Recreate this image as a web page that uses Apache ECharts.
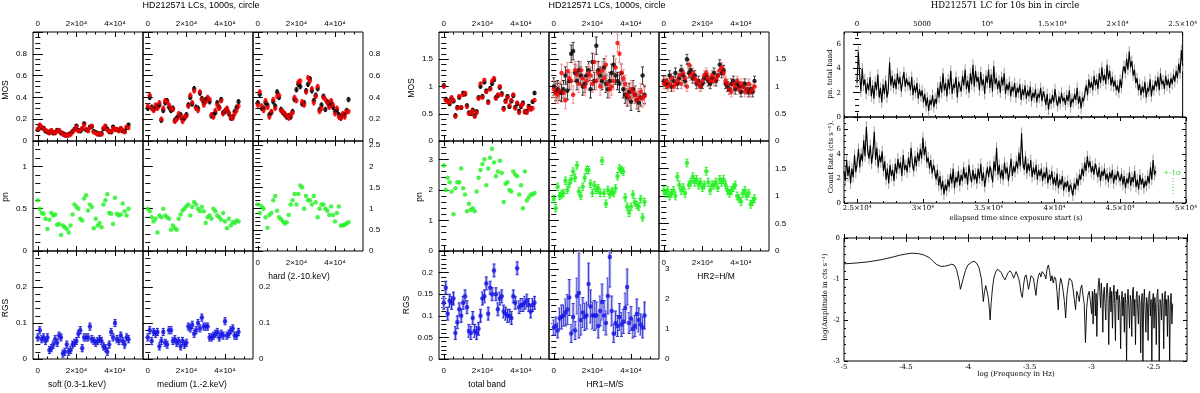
<!DOCTYPE html>
<html><head><meta charset="utf-8">
<script src="https://cdn.jsdelivr.net/npm/echarts@6/dist/echarts.min.js"></script>
<style>html,body{margin:0;padding:0;background:#fff}#c{width:1200px;height:393px}</style>
</head><body><div id="c"></div><script>
// ---------- DATA ----------
const T = [0,1000,2000,3000,4000,5000,6000,7000,8000,9000,10000,11000,12000,13000,14000,15000,16000,17000,18000,19000,20000,21000,22000,23000,24000,25000,26000,27000,28000,29000,30000,31000,32000,33000,34000,35000,36000,37000,38000,39000,40000,41000,42000,43000,44000,45000,46000,47000];
const xMajor = [0,20000,40000];

// left panel (energy bands)
const mosSoftM1 = [0.10,0.14,0.12,0.12,0.09,0.08,0.08,0.09,0.07,0.08,0.10,0.09,0.07,0.07,0.06,0.05,0.06,0.07,0.09,0.11,0.14,0.10,0.09,0.11,0.16,0.10,0.10,0.13,0.13,0.09,0.08,0.07,0.06,0.07,0.11,0.13,0.11,0.09,0.08,0.13,0.11,0.10,0.10,0.11,0.09,0.09,0.12,0.15];
const mosSoftM2 = [0.11,0.15,0.13,0.11,0.10,0.09,0.07,0.10,0.08,0.07,0.09,0.10,0.08,0.06,0.05,0.06,0.05,0.06,0.08,0.10,0.13,0.09,0.10,0.12,0.15,0.11,0.09,0.12,0.14,0.08,0.07,0.06,0.07,0.06,0.12,0.14,0.10,0.08,0.09,0.12,0.10,0.11,0.09,0.12,0.10,0.08,0.13,0.12];
const mosMedM1 = [0.30,0.40,0.31,0.29,0.31,0.32,0.33,0.19,0.28,0.35,0.37,0.31,0.28,0.30,0.19,0.21,0.23,0.24,0.20,0.21,0.24,0.33,0.40,0.34,0.48,0.31,0.30,0.44,0.39,0.35,0.38,0.39,0.36,0.23,0.24,0.26,0.35,0.31,0.38,0.26,0.27,0.29,0.25,0.21,0.22,0.27,0.31,0.36];
const mosMedM2 = [0.32,0.42,0.30,0.28,0.33,0.30,0.35,0.20,0.30,0.37,0.36,0.33,0.30,0.29,0.18,0.20,0.25,0.22,0.18,0.22,0.23,0.32,0.42,0.35,0.46,0.30,0.28,0.45,0.38,0.33,0.36,0.40,0.38,0.24,0.22,0.28,0.33,0.30,0.37,0.25,0.28,0.30,0.26,0.22,0.21,0.25,0.28,0.32];
const mosHardM1 = [0.35,0.43,0.30,0.30,0.35,0.33,0.24,0.26,0.36,0.32,0.45,0.40,0.29,0.26,0.24,0.22,0.23,0.22,0.27,0.38,0.47,0.52,0.50,0.34,0.35,0.46,0.52,0.57,0.46,0.37,0.42,0.48,0.29,0.33,0.41,0.29,0.36,0.33,0.35,0.31,0.27,0.28,0.24,0.21,0.24,0.24,0.28,0.38];
const mosHardM2 = [0.33,0.45,0.32,0.28,0.37,0.31,0.22,0.27,0.38,0.30,0.41,0.42,0.28,0.27,0.25,0.23,0.21,0.24,0.26,0.40,0.37,0.54,0.55,0.36,0.33,0.45,0.58,0.55,0.48,0.35,0.41,0.50,0.27,0.30,0.40,0.38,0.35,0.31,0.37,0.33,0.25,0.30,0.22,0.21,0.25,0.22,0.27,0.27];
const pnSoft = [0.60,0.50,0.45,0.44,0.38,0.26,0.37,0.45,0.42,0.43,0.31,0.32,0.19,0.30,0.28,0.26,0.22,0.30,0.43,0.55,0.52,0.50,0.38,0.36,0.62,0.66,0.48,0.55,0.52,0.27,0.38,0.30,0.33,0.28,0.55,0.60,0.67,0.45,0.44,0.32,0.63,0.44,0.42,0.43,0.56,0.47,0.42,0.50];
const pnMed = [0.50,0.47,0.40,0.35,0.38,0.22,0.42,0.40,0.50,0.42,0.40,0.38,0.25,0.30,0.27,0.25,0.38,0.43,0.48,0.50,0.53,0.55,0.42,0.52,0.58,0.55,0.50,0.47,0.52,0.47,0.33,0.40,0.42,0.38,0.50,0.47,0.42,0.40,0.37,0.45,0.35,0.27,0.38,0.30,0.34,0.33,0.36,0.35];
const pnHard = [1.10,0.90,1.05,1.00,0.80,0.55,0.85,0.90,1.20,1.30,0.95,0.80,0.75,0.70,0.65,0.68,0.85,1.10,1.20,1.35,1.10,1.35,1.55,1.50,1.00,1.30,1.20,1.20,1.10,1.30,1.15,0.80,1.00,1.10,1.10,1.00,0.95,0.85,1.05,0.85,0.70,0.90,1.05,0.60,0.60,0.62,0.65,0.68];
const rgsSoft = [0.060,0.080,0.055,0.060,0.050,0.060,0.025,0.030,0.040,0.055,0.045,0.065,0.060,0.015,0.020,0.040,0.020,0.025,0.040,0.045,0.050,0.070,0.080,0.030,0.060,0.060,0.060,0.090,0.055,0.050,0.045,0.050,0.055,0.050,0.035,0.030,0.020,0.040,0.075,0.060,0.100,0.055,0.050,0.065,0.050,0.040,0.060,0.055];
const rgsMed = [0.060,0.080,0.050,0.075,0.070,0.075,0.035,0.050,0.075,0.045,0.040,0.080,0.080,0.050,0.055,0.045,0.050,0.035,0.050,0.040,0.045,0.090,0.085,0.095,0.070,0.080,0.100,0.085,0.115,0.090,0.090,0.090,0.060,0.060,0.065,0.070,0.075,0.060,0.070,0.065,0.105,0.065,0.070,0.080,0.085,0.065,0.065,0.075];

// middle panel (total band and hardness ratios)
const mosTotM1 = [1.02,0.77,0.74,0.68,0.78,0.73,0.47,0.62,0.80,0.61,0.88,0.86,0.65,0.52,0.50,0.57,0.47,0.54,0.80,1.00,0.82,1.08,0.92,0.72,0.97,1.05,1.12,0.80,0.83,0.98,0.87,0.60,0.74,0.82,0.63,0.73,0.83,0.62,0.68,0.55,0.63,0.70,0.53,0.55,0.64,0.60,0.72,0.88];
const mosTotM2 = [1.00,0.75,0.72,0.70,0.80,0.75,0.45,0.60,0.82,0.62,0.85,0.88,0.63,0.50,0.52,0.55,0.45,0.52,0.78,1.05,0.80,1.12,0.90,0.70,0.95,1.10,1.15,0.78,0.85,1.00,0.85,0.58,0.72,0.80,0.65,0.75,0.85,0.60,0.70,0.52,0.65,0.68,0.55,0.52,0.62,0.58,0.60,0.75];
const mosHR1M1 = [1.00,0.90,0.95,0.90,0.88,0.95,1.20,0.92,1.10,1.60,1.65,1.25,1.10,1.30,1.20,1.00,1.05,1.20,1.30,0.95,1.45,1.10,1.75,1.30,1.20,1.10,1.35,1.05,0.95,1.10,1.25,1.40,1.20,1.10,1.05,1.25,0.95,0.85,0.80,0.90,0.72,0.95,0.85,0.75,0.70,0.80,1.20,0.85];
const mosHR1M2 = [0.95,0.88,0.85,0.92,1.25,0.88,0.75,1.28,1.15,1.10,0.85,1.30,1.22,1.05,1.30,1.15,1.00,1.10,1.25,1.20,1.05,1.45,1.10,1.25,1.00,1.30,1.15,1.40,1.05,0.95,1.00,1.10,1.35,1.80,1.60,1.25,1.15,1.05,0.85,0.80,0.95,0.90,0.85,0.75,0.80,0.90,0.78,0.82];
const mosHR2M1 = [1.10,1.05,1.05,1.20,1.00,1.10,1.25,1.05,1.15,1.30,1.20,1.10,1.50,1.25,1.30,1.15,1.20,1.05,1.10,1.00,1.05,1.15,1.20,1.10,1.05,1.15,1.25,1.10,1.20,1.40,1.25,1.30,1.05,1.00,0.95,1.05,1.10,0.95,1.05,1.00,0.90,1.00,1.05,0.95,0.90,0.95,0.90,1.10];
const mosHR2M2 = [1.05,1.10,1.00,1.05,1.15,1.00,1.05,1.10,1.20,1.05,1.25,1.15,1.00,1.40,1.20,1.25,1.15,1.10,1.05,1.00,1.10,1.20,1.25,1.15,1.10,1.20,1.10,1.15,1.20,1.30,1.35,1.25,1.10,1.05,0.95,0.90,1.05,1.00,1.10,0.95,1.05,1.00,0.90,0.95,1.05,0.90,0.95,1.00];
const pnTot = [2.80,2.00,2.40,2.25,1.95,1.20,2.05,2.25,2.25,2.70,2.05,1.85,1.30,1.55,1.35,1.40,1.30,1.95,2.40,2.65,2.85,3.00,2.15,2.70,3.05,3.35,2.90,2.45,2.60,2.95,2.55,1.60,2.20,2.25,2.00,1.95,2.60,2.50,2.45,1.85,2.15,1.40,2.60,1.65,1.75,1.85,1.85,1.90];
const pnHR1 = [1.70,1.40,2.10,1.80,1.85,1.90,2.30,2.00,2.20,2.35,2.60,2.40,2.80,1.95,1.80,2.10,2.40,2.65,2.65,2.20,1.90,2.15,2.00,2.05,1.90,2.95,1.90,1.55,2.00,1.85,1.95,1.90,2.05,2.45,2.70,2.65,2.60,1.75,1.45,1.25,1.45,1.85,1.60,1.50,1.45,1.70,1.10,1.60];
const pnHR2 = [1.10,1.05,1.10,1.00,1.05,1.10,1.00,1.35,1.20,1.10,1.15,1.05,1.60,1.20,1.25,1.35,1.25,1.30,1.20,1.25,1.15,1.20,1.45,1.25,1.10,1.20,1.20,1.25,1.15,1.30,1.25,1.30,1.20,1.10,1.05,1.10,1.15,1.20,1.00,0.95,0.90,1.05,1.10,1.00,1.05,0.85,0.90,0.95];
const rgsTot = [0.130,0.165,0.105,0.135,0.130,0.140,0.060,0.085,0.115,0.100,0.130,0.145,0.120,0.065,0.060,0.095,0.065,0.060,0.070,0.100,0.140,0.145,0.175,0.105,0.165,0.150,0.205,0.150,0.115,0.140,0.145,0.110,0.105,0.100,0.100,0.095,0.145,0.130,0.210,0.120,0.125,0.125,0.130,0.135,0.125,0.110,0.125,0.130];
const rgsHR1 = [1.05,1.10,0.95,1.35,1.40,1.45,1.55,1.65,2.05,0.85,1.40,0.95,2.10,2.20,1.30,1.55,1.40,1.45,2.50,1.75,1.45,1.45,1.45,1.10,1.60,1.90,1.45,1.20,2.10,3.40,1.60,0.85,1.20,1.10,1.40,1.15,1.25,1.70,2.40,1.20,1.35,1.00,1.10,1.50,1.30,1.15,1.05,1.45];
const rgsHR1Err = [0.25,0.30,0.25,0.35,0.40,0.35,0.45,0.50,0.60,0.30,0.45,0.30,0.60,1.50,0.50,0.50,0.45,0.45,0.70,0.55,0.45,0.50,0.45,0.40,0.50,0.60,0.50,0.40,0.60,1.00,0.50,0.30,0.40,0.35,0.45,0.40,0.40,0.50,0.60,0.35,0.40,0.30,0.35,0.50,0.40,0.35,0.35,0.45];

// right panel: pn total-band light curve (100 s samples) and periodogram
const lcBin = 100;
const lcTopStart = 0;
const lcTop = [2.8,5.4,3.5,2.1,4.0,2.6,3.1,1.9,2.8,2.2, 3.3,1.7,2.6,1.5,2.9,2.2,3.5,1.6,2.4,1.2, 2.7,1.9,3.0,1.6,2.3,4.5,2.6,3.4,2.4,3.1, 2.3,3.6,2.7,3.3,2.1,3.0,3.7,2.5,3.2,2.6, 2.9,2.2,3.3,1.8,2.6,2.0,2.8,1.5,2.3,1.7, 2.2,1.2,1.9,0.9,1.6,0.5,1.4,1.0,1.8,0.8, 1.5,1.1,2.4,1.6,2.9,2.0,3.6,2.2,2.8,1.7, 3.1,2.3,3.8,1.9,2.7,2.4,3.3,1.6,2.9,2.5, 2.1,3.4,2.6,3.9,2.3,3.0,2.0,3.6,2.7,4.3, 2.5,3.8,2.9,3.3,2.2,3.7,2.6,3.1,1.9,3.4, 2.8,3.9,2.4,3.5,2.1,4.2,2.7,3.2,2.3,3.0, 2.0,3.3,2.6,3.6,1.9,2.7,2.2,2.9,1.7,2.5, 2.1,2.8,1.6,2.4,2.0,2.7,1.4,2.3,1.8,2.6, 1.5,2.2,1.7,2.5,1.3,2.0,1.6,2.3,1.2,1.9, 1.6,2.4,1.3,2.1,1.7,1.0,1.9,0.6,1.5,1.1, 1.8,1.2,2.3,1.4,0.9,1.7,1.1,2.0,1.3,1.6, 1.0,1.8,1.3,2.2,0.8,1.5,1.2,1.9,1.4,2.4, 1.1,1.7,0.7,1.6,1.3,2.0,2.6,1.8,3.1,2.4, 2.9,2.2,3.4,2.6,3.1,2.3,3.6,2.8,4.1,3.0, 3.5,2.7,4.3,3.1,3.8,2.6,3.3,2.5,3.0,2.2, 2.6,2.0,3.1,2.4,3.7,4.2,3.6,4.8,3.9,5.4, 4.1,4.6,3.4,3.9,2.8,3.2,2.2,2.7,1.8,2.5, 2.0,2.9,1.6,2.4,2.1,3.1,1.7,2.6,2.2,3.0, 2.5,3.3,2.2,3.6,2.7,3.0,2.3,3.4,2.6,3.1, 2.4,3.2,2.7,3.5,2.9,3.8,3.2,4.4,3.6,5.5,4.2];
const lcBotStart = 24000;
const lcBot = [2.6,1.8,3.5,2.2,3.0,1.6,2.8,2.1,3.9,2.5, 3.3,4.4,2.9,4.0,3.4,5.1,3.8,6.2,4.3,3.6, 4.7,3.2,4.1,5.8,3.5,4.5,2.9,3.9,3.3,4.2, 2.6,3.4,1.9,2.8,1.6,3.1,2.2,2.7,1.8,3.2, 2.4,3.6,2.8,3.3,2.2,3.9,2.7,3.1,2.5,3.7, 2.9,4.5,3.2,2.6,3.8,3.0,4.1,3.4,4.4,3.6, 5.3,3.9,4.6,3.3,3.7,2.8,3.5,2.4,3.1,2.6, 1.9,2.7,1.4,2.2,1.1,1.8,0.7,1.5,1.0,1.9, 1.3,2.4,1.6,2.8,1.2,2.1,1.7,2.6,1.4,2.3, 1.8,2.9,2.0,2.5,1.5,3.1,2.2,1.7,2.7,1.9, 2.4,1.6,2.8,2.0,3.2,1.8,2.5,1.3,2.2,2.9, 2.1,3.0,2.4,1.7,3.4,2.6,4.5,2.3,3.1,2.0, 2.7,1.9,3.3,2.4,2.9,1.8,2.6,3.6,2.2,3.0, 2.5,3.4,2.8,4.1,3.0,5.7,3.3,2.7,3.8,2.4, 3.2,2.6,3.5,2.1,2.9,2.3,3.1,1.9,2.7,2.2, 2.8,1.8,2.5,2.0,2.9,1.6,2.3,1.9,2.6,1.5, 2.1,1.4,2.4,1.2,1.9,1.5,2.2,1.0,1.7,1.3, 1.8,0.9,1.5,1.2,0.6,1.6,1.1,2.0,1.4,2.3, 1.9,2.8,2.2,3.3,2.6,3.8,2.9,3.4,2.5,3.0, 2.3,3.2,2.7,2.1,2.9,1.8,2.6,2.2,2.8,1.9, 2.4,1.7,2.5,2.0,2.7,1.6,2.3,1.9,2.6,2.1, 1.8,2.4,1.5,2.2,1.2,2.0,1.6,2.5,1.4,2.1, 1.7,2.6,1.3,1.9,1.1,2.3,1.5,2.0,1.2,1.8, 1.4,2.2,1.6,2.9,1.9,3.5,2.3,2.6];
const lcErr = 0.45;
const periodogram = [[-5.00,-0.63],[-4.90,-0.61],[-4.80,-0.58],[-4.70,-0.53],[-4.60,-0.46],[-4.55,-0.42],[-4.50,-0.39],[-4.45,-0.37],[-4.40,-0.38],[-4.35,-0.42],[-4.31,-0.48],[-4.28,-0.57],[-4.25,-0.65],[-4.22,-0.69],[-4.19,-0.69],[-4.16,-0.67],[-4.13,-0.64],[-4.11,-0.66],[-4.09,-0.78],[-4.07,-1.05],[-4.06,-1.25],[-4.05,-1.22],[-4.04,-1.02],[-4.02,-0.80],[-4.00,-0.66],[-3.97,-0.59],[-3.95,-0.57],[-3.93,-0.61],[-3.91,-0.72],[-3.89,-1.0],[-3.88,-1.35],[-3.875,-1.55],[-3.865,-1.3],[-3.855,-1.16],[-3.845,-1.2],[-3.835,-1.45],[-3.825,-1.75],[-3.82,-2.0],[-3.812,-1.6],[-3.80,-1.2],[-3.79,-0.98],[-3.775,-0.83],[-3.76,-0.76],[-3.745,-0.78],[-3.73,-0.84],[-3.715,-0.95],[-3.70,-1.02],[-3.69,-0.95],[-3.675,-0.85],[-3.66,-0.8],[-3.645,-0.86],[-3.63,-0.98],[-3.62,-0.9],[-3.61,-0.82],[-3.60,-0.86],[-3.59,-0.98],[-3.58,-1.12],[-3.57,-1.35],[-3.56,-1.45],[-3.55,-1.15],[-3.54,-0.95],[-3.53,-0.9],[-3.52,-1.05],[-3.51,-1.25],[-3.50,-1.1],[-3.49,-0.92],[-3.48,-0.88],[-3.47,-0.98],[-3.46,-1.2],[-3.45,-1.4],[-3.44,-1.1],[-3.43,-0.92],[-3.42,-0.85],[-3.41,-0.95],[-3.40,-0.82],[-3.39,-0.78],[-3.38,-0.9],[-3.37,-1.0],[-3.36,-0.75],[-3.35,-0.66],[-3.34,-0.8],[-3.33,-1.05],[-3.32,-0.92],[-3.31,-1.1],[-3.30,-0.95],[-3.29,-1.0],[-3.28,-1.3],[-3.27,-1.75],[-3.26,-1.2],[-3.25,-0.98],[-3.24,-1.1],[-3.23,-1.3],[-3.22,-1.55],[-3.21,-1.95],[-3.20,-1.4],[-3.19,-1.15],[-3.18,-0.98],[-3.17,-0.94],[-3.16,-1.05],[-3.15,-1.25],[-3.14,-1.5],[-3.13,-1.75],[-3.12,-1.3],[-3.11,-1.4],[-3.10,-1.55],[-3.09,-1.25],[-3.08,-1.15],[-3.07,-1.4],[-3.06,-1.6],[-3.05,-2.55],[-3.04,-1.7],[-3.03,-1.4],[-3.02,-1.3],[-3.01,-1.55],[-3.00,-1.85],
[-2.994,-1.3],[-2.988,-2.1],[-2.982,-1.4],[-2.976,-1.25],[-2.970,-1.9],[-2.964,-1.35],[-2.958,-2.4],[-2.952,-1.5],[-2.946,-1.15],[-2.940,-0.98],[-2.934,-1.3],[-2.928,-1.7],[-2.922,-1.1],[-2.916,-1.45],[-2.910,-2.3],[-2.904,-1.35],[-2.898,-1.2],[-2.892,-1.6],[-2.886,-2.0],[-2.880,-1.25],[-2.874,-1.1],[-2.868,-1.5],[-2.862,-2.6],[-2.856,-1.4],[-2.850,-1.2],[-2.844,-1.8],[-2.838,-1.3],[-2.832,-2.2],[-2.826,-1.45],[-2.820,-1.15],[-2.814,-1.6],[-2.808,-2.5],[-2.802,-1.3],[-2.796,-1.5],[-2.790,-1.25],[-2.784,-2.0],[-2.778,-1.4],[-2.772,-1.6],[-2.766,-2.7],[-2.760,-1.5],[-2.754,-1.3],[-2.748,-1.9],[-2.742,-1.45],[-2.736,-2.3],[-2.730,-1.35],[-2.724,-1.6],[-2.718,-3.0],[-2.712,-1.5],[-2.706,-1.25],[-2.700,-1.7],[-2.694,-2.2],[-2.688,-1.4],[-2.682,-1.55],[-2.676,-2.4],[-2.670,-1.35],[-2.664,-1.2],[-2.658,-1.9],[-2.652,-1.5],[-2.646,-2.6],[-2.640,-1.45],[-2.634,-1.3],[-2.628,-1.75],[-2.622,-2.1],[-2.616,-1.4],[-2.610,-1.6],[-2.604,-2.8],[-2.598,-1.5],[-2.592,-1.35],[-2.586,-3.0],[-2.580,-1.55],[-2.574,-1.25],[-2.568,-1.8],[-2.562,-2.3],[-2.556,-1.45],[-2.550,-1.6],[-2.544,-2.5],[-2.538,-1.4],[-2.532,-1.3],[-2.526,-1.9],[-2.520,-1.5],[-2.514,-3.0],[-2.508,-1.55],[-2.502,-1.35],[-2.496,-2.2],[-2.490,-1.45],[-2.484,-1.7],[-2.478,-2.6],[-2.472,-1.4],[-2.466,-1.25],[-2.460,-1.8],[-2.454,-3.0],[-2.448,-1.5],[-2.442,-1.6],[-2.436,-2.0],[-2.430,-1.35],[-2.424,-1.55],[-2.418,-2.7],[-2.412,-1.45],[-2.406,-1.3],[-2.400,-1.9],[-2.394,-1.5],[-2.388,-2.4],[-2.382,-1.4],[-2.376,-1.6],[-2.370,-3.0],[-2.364,-1.5],[-2.358,-1.35],[-2.352,-2.1],[-2.346,-1.6]];

// ---------- CHART ----------
const SANS = '"Liberation Sans", Arial, sans-serif';
const SERIF = '"DejaVu Serif", serif';
const RED = '#f20000', GREEN = '#1ff01f', BLUE = '#1414e6';
const grid = [], xAxis = [], yAxis = [], series = [];

function sci(v) {
  if (Math.abs(v) < 1e-9) return '0';
  const m = Math.round(v / 1000) / 10;
  if (m === 1) return '10\u2074';
  return m + '\u00d710\u2074';
}
function sciR(v) { return v > 0 && v < 10000 ? String(v) : sci(v); }
function steps(a, b, s) { const r = []; for (let v = a; v <= b + 1e-9; v += s) r.push(v); return r; }

function cell(c) {
  const gi = grid.length;
  grid.push({left: c.l, top: c.t, width: c.w, height: c.h, show: true, borderColor: '#000', borderWidth: 1, backgroundColor: 'rgba(0,0,0,0)'});
  const X = c.x, Y = c.y;
  const txt = {color: '#000', fontFamily: c.font, fontSize: c.fs};
  const xi = xAxis.length;
  for (const pos of ['bottom', 'top']) {
    const show = pos === 'bottom' ? !!X.labB : !!X.labT;
    const base = {gridIndex: gi, type: 'value', position: pos, min: X.min, max: X.max, axisLine: {show: false}, splitLine: {show: false}, silent: true};
    if (X.interval) {
      xAxis.push(Object.assign({}, base, {interval: X.interval,
        axisTick: {show: true, inside: true, length: c.tl, lineStyle: {color: '#000'}},
        minorTick: {show: true, splitNumber: X.minor, length: c.tl / 2, lineStyle: {color: '#000'}},
        axisLabel: Object.assign({show: show, margin: X.m, showMaxLabel: false, formatter: X.fmt}, txt)}));
    } else {
      xAxis.push(Object.assign({}, base, {
        axisTick: {show: true, inside: true, length: c.tl, customValues: X.major, lineStyle: {color: '#000'}},
        axisLabel: Object.assign({show: show, margin: X.m, customValues: X.major, formatter: X.fmt}, txt)}));
      xAxis.push(Object.assign({}, base, {
        axisTick: {show: true, inside: true, length: c.tl / 2, customValues: X.minor, lineStyle: {color: '#000'}},
        axisLabel: {show: false}}));
    }
  }
  const yi = yAxis.length;
  for (const pos of ['left', 'right']) {
    const show = pos === 'left' ? !!Y.labL : !!Y.labR;
    yAxis.push({gridIndex: gi, type: 'value', position: pos, min: Y.min, max: Y.max, interval: Y.interval,
      axisLine: {show: false}, splitLine: {show: false}, silent: true,
      axisTick: {show: true, inside: true, length: c.tl, lineStyle: {color: '#000'}},
      minorTick: {show: true, splitNumber: Y.minor, length: c.tl / 2, lineStyle: {color: '#000'}},
      axisLabel: Object.assign({show: show, margin: Y.m || 6, showMaxLabel: !!Y.showMax}, txt)});
  }
  return {x: xi, y: yi};
}

function errRender(color, halo, cap, lw) {
  return function (params, api) {
    const x = api.value(0), y = api.value(1), e = api.value(2);
    const a = api.coord([x, y - e]), b = api.coord([x, y + e]);
    const ch = [];
    if (halo) ch.push({type: 'line', shape: {x1: a[0], y1: a[1], x2: b[0], y2: b[1]}, style: {stroke: halo, lineWidth: 3}});
    ch.push({type: 'line', shape: {x1: a[0], y1: a[1], x2: b[0], y2: b[1]}, style: {stroke: color, lineWidth: lw || 1}});
    if (cap) {
      ch.push({type: 'line', shape: {x1: a[0] - cap, y1: a[1], x2: a[0] + cap, y2: a[1]}, style: {stroke: color, lineWidth: 1}});
      ch.push({type: 'line', shape: {x1: b[0] - cap, y1: b[1], x2: b[0] + cap, y2: b[1]}, style: {stroke: color, lineWidth: 1}});
    }
    return {type: 'group', children: ch};
  };
}
function pts(ax, vals, color, size) {
  series.push({type: 'scatter', xAxisIndex: ax.x, yAxisIndex: ax.y, data: vals.map((v, i) => [T[i], v]),
    symbol: 'circle', symbolSize: size || 4.5, itemStyle: {color: color}, silent: true, animation: false, z: 4});
}
function errs(ax, vals, err, color, halo, cap) {
  series.push({type: 'custom', xAxisIndex: ax.x, yAxisIndex: ax.y, clip: true, silent: true, animation: false, z: 3,
    data: vals.map((v, i) => [T[i], v, Array.isArray(err) ? err[i] : err]),
    renderItem: errRender(color, halo, cap)});
}

// layout of the 3x3 panels
const colL = [33, 143, 253], colM = [439, 549, 659], rowT = [32, 141, 251], rowH = [109, 110, 108];
const xLM = (labT, labB) => ({min: -2500, max: 54500, major: xMajor, minor: steps(0, 50000, 5000), fmt: sci, m: labT ? 4 : 8, labT: labT, labB: labB});
const mk = (cols, ci, ri, x, y) => cell({l: cols[ci], t: rowT[ri], w: 110, h: rowH[ri], font: SANS, fs: 8, tl: 5, x: x, y: y});

// left panel
const L11 = mk(colL, 0, 0, xLM(true), {min: 0, max: 1, interval: 0.2, minor: 4, labL: true});
const L12 = mk(colL, 1, 0, xLM(true), {min: 0, max: 1, interval: 0.2, minor: 4});
const L13 = mk(colL, 2, 0, xLM(true), {min: 0, max: 1, interval: 0.2, minor: 4, labR: true});
const L21 = mk(colL, 0, 1, xLM(false), {min: 0, max: 1.3, interval: 0.5, minor: 5, labL: true});
const L22 = mk(colL, 1, 1, xLM(false), {min: 0, max: 1.3, interval: 0.5, minor: 5});
const L23 = mk(colL, 2, 1, xLM(false, true), {min: 0, max: 2.6, interval: 0.5, minor: 5, labR: true});
const L31 = mk(colL, 0, 2, xLM(false, true), {min: 0, max: 0.3, interval: 0.1, minor: 5, labL: true});
const L32 = mk(colL, 1, 2, xLM(false, true), {min: 0, max: 0.3, interval: 0.1, minor: 5, labR: true});
// middle panel
const M11 = mk(colM, 0, 0, xLM(true), {min: 0, max: 2, interval: 0.5, minor: 5, labL: true});
const M12 = mk(colM, 1, 0, xLM(true), {min: 0, max: 2, interval: 0.5, minor: 5});
const M13 = mk(colM, 2, 0, xLM(true), {min: 0, max: 2, interval: 0.5, minor: 5, labR: true});
const M21 = mk(colM, 0, 1, xLM(false), {min: 0, max: 3.6, interval: 1, minor: 5, labL: true});
const M22 = mk(colM, 1, 1, xLM(false), {min: 0, max: 3.6, interval: 1, minor: 5});
const M23 = mk(colM, 2, 1, xLM(false, true), {min: 0, max: 2, interval: 0.5, minor: 5, labR: true});
const M31 = mk(colM, 0, 2, xLM(false, true), {min: 0, max: 0.25, interval: 0.05, minor: 5, labL: true});
const M32 = mk(colM, 1, 2, xLM(false, true), {min: 0, max: 3.6, interval: 1, minor: 5, labR: true});
// right panel
const R1 = cell({l: 844, t: 32, w: 343, h: 85, font: SERIF, fs: 7, tl: 4,
  x: {min: -1000, max: 25000, major: steps(0, 25000, 5000), minor: steps(-1000, 25000, 1000), fmt: sciR, m: 4, labT: true},
  y: {min: 0, max: 7, interval: 2, minor: 4, labL: true, m: 3}});
const R2 = cell({l: 844, t: 117, w: 343, h: 86, font: SERIF, fs: 7, tl: 4,
  x: {min: 24000, max: 50000, major: steps(25000, 50000, 5000), minor: steps(24000, 50000, 1000), fmt: sciR, m: 2, labB: true},
  y: {min: 0, max: 7, interval: 2, minor: 4, labL: true, m: 3}});
const R3 = cell({l: 844, t: 238, w: 343, h: 123, font: SERIF, fs: 7, tl: 4,
  x: {min: -5, max: -2.23, interval: 0.5, minor: 5, m: 3, labB: true},
  y: {min: -3, max: 0, interval: 1, minor: 5, labL: true, m: 4, showMax: true}});

// left panel series
[[L11, mosSoftM1, mosSoftM2, 0.012], [L12, mosMedM1, mosMedM2, 0.02], [L13, mosHardM1, mosHardM2, 0.02]].forEach(([ax, a, b, e]) => {
  errs(ax, a, e, '#000', null, 1); pts(ax, a, '#000');
  errs(ax, b, e, RED, null, 1); pts(ax, b, RED);
});
pts(L21, pnSoft, GREEN); pts(L22, pnMed, GREEN); pts(L23, pnHard, GREEN);
errs(L31, rgsSoft, 0.01, '#2a2ad0', '#b4b4f2', 1.5); pts(L31, rgsSoft, BLUE);
errs(L32, rgsMed, 0.01, '#2a2ad0', '#b4b4f2', 1.5); pts(L32, rgsMed, BLUE);
// middle panel series
errs(M11, mosTotM1, 0.03, '#000', null, 1); pts(M11, mosTotM1, '#000');
errs(M11, mosTotM2, 0.03, RED, null, 1); pts(M11, mosTotM2, RED);
errs(M12, mosHR1M1, 0.16, '#333', null, 1.5); pts(M12, mosHR1M1, '#000');
errs(M12, mosHR1M2, 0.16, '#f49090', null, 1.5); pts(M12, mosHR1M2, RED);
errs(M13, mosHR2M1, 0.09, '#444', null, 1.5); pts(M13, mosHR2M1, '#000');
errs(M13, mosHR2M2, 0.09, '#f49090', null, 1.5); pts(M13, mosHR2M2, RED);
pts(M21, pnTot, GREEN);
errs(M22, pnHR1, 0.12, GREEN, null, 1.5); pts(M22, pnHR1, GREEN);
errs(M23, pnHR2, 0.07, GREEN, null, 1.5); pts(M23, pnHR2, GREEN);
errs(M31, rgsTot, 0.015, '#2a2ad0', '#b4b4f2', 1.5); pts(M31, rgsTot, BLUE);
errs(M32, rgsHR1, rgsHR1Err, '#3a3ad0', '#c0c0f4', 1.5); pts(M32, rgsHR1, BLUE);

// right panel series
function lc(ax, start, vals) {
  const d = vals.map((v, i) => [start + i * lcBin, v, lcErr]);
  series.push({type: 'custom', xAxisIndex: ax.x, yAxisIndex: ax.y, clip: true, silent: true, animation: false, z: 2,
    data: d, renderItem: errRender('#a0a0a0', null, 0)});
  series.push({type: 'line', xAxisIndex: ax.x, yAxisIndex: ax.y, data: d.map(p => [p[0], p[1]]), showSymbol: false,
    lineStyle: {color: '#000', width: 1.1}, silent: true, animation: false, z: 3});
}
lc(R1, lcTopStart, lcTop);
lc(R2, lcBotStart, lcBot);
series.push({type: 'line', xAxisIndex: R3.x, yAxisIndex: R3.y, data: periodogram, showSymbol: false,
  lineStyle: {color: '#000', width: 0.9}, silent: true, animation: false});

// texts
const texts = [
  ['HD212571 LCs, 1000s, circle', 201, 6, 0, '9px ' + SANS, '#000'],
  ['HD212571 LCs, 1000s, circle', 607, 6, 0, '9px ' + SANS, '#000'],
  ['HD212571 LC for 10s bin in circle', 1005, 6, 0, '8.5px ' + SERIF, '#000'],
  ['MOS', 6, 90, 90, '8.5px ' + SANS, '#000'], ['pn', 6, 197, 90, '8.5px ' + SANS, '#000'], ['RGS', 6, 308, 90, '8.5px ' + SANS, '#000'],
  ['MOS', 412, 88, 90, '8.5px ' + SANS, '#000'], ['pn', 420, 197, 90, '8.5px ' + SANS, '#000'], ['RGS', 407, 305, 90, '8.5px ' + SANS, '#000'],
  ['soft (0.3-1.keV)', 77, 385, 0, '8.5px ' + SANS, '#000'], ['medium (1.-2.keV)', 192, 385, 0, '8.5px ' + SANS, '#000'],
  ['hard (2.-10.keV)', 299, 277, 0, '8.5px ' + SANS, '#000'],
  ['total band', 487, 385, 0, '8.5px ' + SANS, '#000'], ['HR1=M/S', 605, 385, 0, '8.5px ' + SANS, '#000'],
  ['HR2=H/M', 716, 277, 0, '8.5px ' + SANS, '#000'],
  ['pn. total band', 830, 74, 90, '7px ' + SERIF, '#000'],
  ['Count Rate (cts s\u207b\u00b9).', 831, 157, 90, '7px ' + SERIF, '#000'],
  ['ellapsed time since exposure start (s)', 1016, 218, 0, '7px ' + SERIF, '#000'],
  ['log(Amplitude in cts s\u207b\u00b9)', 825, 297, 90, '7px ' + SERIF, '#000'],
  ['log (Frequency in Hz)', 1016, 374, 0, '7px ' + SERIF, '#000'],
  ['+-1\u03c3', 1172, 173, 0, '7px ' + SERIF, '#33dd33']
];
const graphic = texts.map(([t, x, y, r, f, c]) => ({type: 'text', x: x, y: y, rotation: r * Math.PI / 180, silent: true,
  style: {text: t, font: f, fill: c, align: 'center', verticalAlign: 'middle', textAlign: 'center', textVerticalAlign: 'middle'}}));
graphic.push({type: 'line', silent: true, shape: {x1: 1173, y1: 178, x2: 1173, y2: 194}, style: {stroke: '#33dd33', lineWidth: 1, lineDash: [1, 2]}});

const chart = echarts.init(document.getElementById('c'), null, {renderer: 'canvas'});
chart.setOption({animation: false, backgroundColor: '#fff', grid: grid, xAxis: xAxis, yAxis: yAxis, series: series, graphic: graphic});
</script></body></html>
